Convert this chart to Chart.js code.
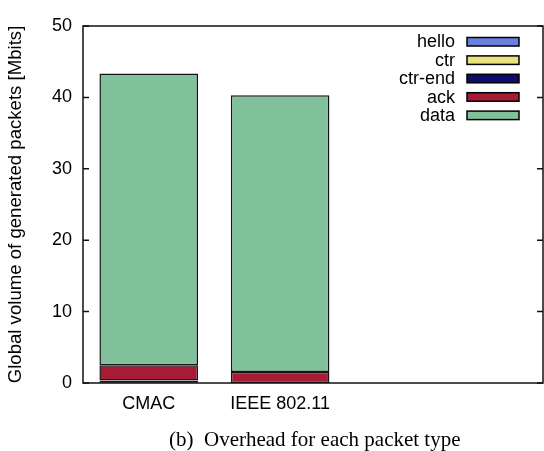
<!DOCTYPE html>
<html>
<head>
<meta charset="utf-8">
<script src="https://cdn.jsdelivr.net/npm/chart.js@4"></script>
<style>
  body { margin: 0; background: #fff; }
  #wrap { position: relative; width: 544px; height: 451px; }
  #caption {
    position: absolute; left: 169px; top: 427px;
    font-family: 'Liberation Serif', 'DejaVu Serif', serif;
    font-size: 21px; color: #000; white-space: pre;
  }
</style>
</head>
<body>
<div id="wrap">
  <canvas id="chart"></canvas>
  <div id="caption">(b)  Overhead for each packet type</div>
</div>
<script>
// Data
const categories = ['CMAC', 'IEEE 802.11'];
const packetTypes = ['hello', 'ctr', 'ctr-end', 'ack', 'data'];
const helloVals = [0.02, 0];
const ctrVals = [0.3, 0];
const ctrEndVals = [0.02, 0];
const ackVals = [2.14, 1.54];
const dataVals = [40.85, 38.75];
const yTicks = [0, 10, 20, 30, 40, 50];

const typeColors = ['#6a7fe0', '#e8e37e', '#0e0a70', '#a81b36', '#80c19b'];
const seriesVals = [helloVals, ctrVals, ctrEndVals, ackVals, dataVals];

const FONT = "'Liberation Sans', Arial, sans-serif";

// inward ticks + full frame, gnuplot style
const framePlugin = {
    id: 'frame',
    afterDatasetsDraw(chart) {
        const { ctx, chartArea: a } = chart;
        const y = chart.scales.y;
        ctx.save();
        ctx.strokeStyle = '#111';
        ctx.lineWidth = 1.5;
        yTicks.forEach(v => {
            const py = y.getPixelForValue(v);
            ctx.beginPath();
            ctx.moveTo(a.left, py); ctx.lineTo(a.left + 6, py);
            ctx.moveTo(a.right, py); ctx.lineTo(a.right - 6, py);
            ctx.stroke();
        });
        ctx.strokeRect(a.left, a.top, a.right - a.left, a.bottom - a.top);
        ctx.restore();
    }
};

// key in the top right corner: label, then sample box
const keyPlugin = {
    id: 'key',
    afterDraw(chart) {
        const { ctx } = chart;
        ctx.save();
        ctx.font = '18px ' + FONT;
        ctx.textAlign = 'right';
        ctx.textBaseline = 'middle';
        packetTypes.forEach((name, i) => {
            const cy = 41.5 + i * 18.4;
            ctx.fillStyle = '#000';
            ctx.fillText(name, 455, cy + 1);
            ctx.fillStyle = typeColors[i];
            ctx.fillRect(467, cy - 4, 52, 8.5);
            ctx.strokeStyle = '#000';
            ctx.lineWidth = 1.5;
            ctx.strokeRect(467, cy - 4, 52, 8.5);
        });
        ctx.restore();
    }
};

new Chart(document.getElementById('chart'), {
    type: 'bar',
    data: {
        datasets: packetTypes.map((name, i) => ({
            label: name,
            data: seriesVals[i].map((v, j) => ({ x: j, y: v })),
            backgroundColor: typeColors[i],
            borderColor: '#151515',
            borderWidth: 1.5,
            borderSkipped: false,
            barPercentage: 0.75,
            categoryPercentage: 1
        }))
    },
    options: {
        responsive: true,
        maintainAspectRatio: false,
        animation: false,
        layout: { padding: { top: 26, right: 1, bottom: 38, left: 0 } },
        plugins: { legend: { display: false }, tooltip: { enabled: false } },
        scales: {
            x: {
                type: 'linear',
                stacked: true,
                offset: false,
                min: -0.5,
                max: 3,
                afterBuildTicks: s => { s.ticks = categories.map((c, i) => ({ value: i })); },
                afterFit: s => { s.height = 30; },
                grid: { display: false, drawTicks: false },
                border: { display: false },
                ticks: {
                    padding: 10,
                    maxRotation: 0,
                    color: '#000',
                    font: { family: FONT, size: 18 },
                    callback: v => categories[v] ?? ''
                }
            },
            y: {
                stacked: true,
                min: 0,
                max: 50,
                afterBuildTicks: s => { s.ticks = yTicks.map(v => ({ value: v })); },
                afterFit: s => { s.width = 83; },
                grid: { display: false, drawTicks: false },
                border: { display: false },
                ticks: {
                    padding: 11,
                    color: '#000',
                    font: { family: FONT, size: 18 }
                },
                title: {
                    display: true,
                    text: 'Global volume of generated packets [Mbits]',
                    color: '#000',
                    font: { family: FONT, size: 18.6 },
                    padding: { top: 5, bottom: 0 }
                }
            }
        }
    },
    plugins: [framePlugin, keyPlugin]
});
</script>
</body>
</html>
